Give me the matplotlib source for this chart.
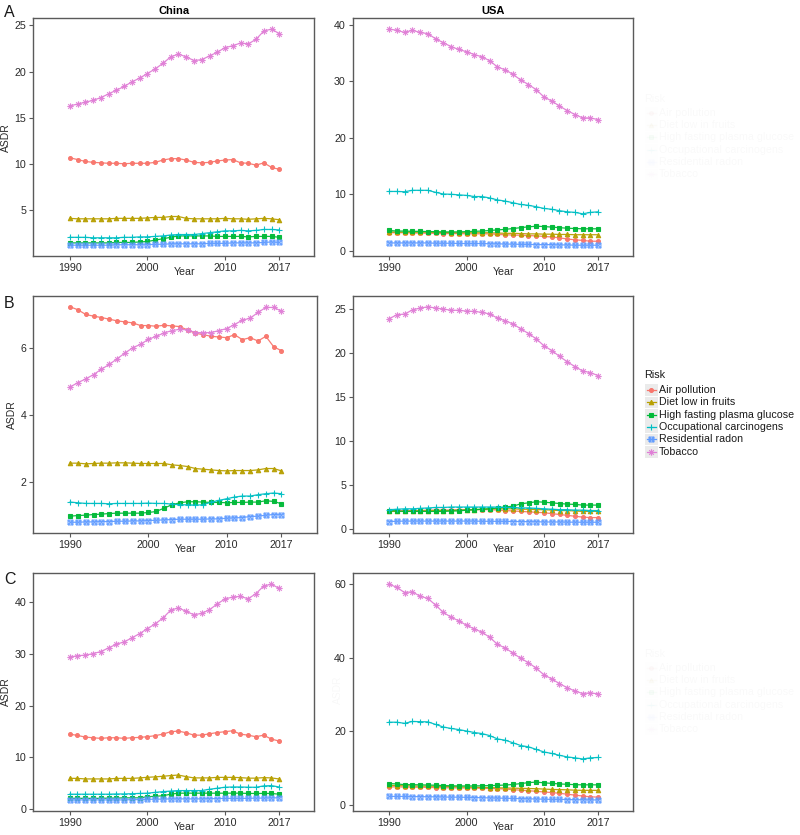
import numpy as np
import matplotlib
matplotlib.use("Agg")
import matplotlib.pyplot as plt
from matplotlib.path import Path
from matplotlib.lines import Line2D
from matplotlib.patches import Rectangle

plt.rcParams["font.family"] = ["Liberation Sans", "DejaVu Sans"]

W, H = 800, 835

years = list(range(1990, 2018))
xticks = [1990, 2000, 2010, 2017]
risks = ["Air pollution", "Diet low in fruits", "High fasting plasma glucose",
         "Occupational carcinogens", "Residential radon", "Tobacco"]
colors = ["#F8766D", "#B79F00", "#00BA38", "#00BFC4", "#619CFF", "#E07FD6"]

# Panel A (China)
a_china_air = [10.7, 10.5, 10.3, 10.2, 10.15, 10.1, 10.1, 10.05, 10.1, 10.1, 10.1, 10.2, 10.45, 10.6,
               10.6, 10.45, 10.2, 10.15, 10.2, 10.35, 10.45, 10.5, 10.15, 10.1, 9.9, 10.15, 9.65, 9.45]
a_china_diet = [4.15, 4.1, 4.1, 4.1, 4.1, 4.1, 4.15, 4.15, 4.15, 4.15, 4.2, 4.25, 4.25, 4.35,
                4.35, 4.15, 4.1, 4.1, 4.1, 4.1, 4.15, 4.1, 4.1, 4.05, 4.1, 4.15, 4.1, 4.0]
a_china_fpg = [1.5, 1.5, 1.5, 1.5, 1.5, 1.5, 1.55, 1.55, 1.55, 1.6, 1.65, 1.8, 1.95, 2.1,
               2.25, 2.25, 2.25, 2.25, 2.25, 2.2, 2.2, 2.2, 2.2, 2.15, 2.2, 2.2, 2.2, 2.1]
a_china_occ = [2.1, 2.1, 2.1, 2.05, 2.05, 2.05, 2.05, 2.1, 2.1, 2.15, 2.15, 2.2, 2.25, 2.35,
               2.4, 2.4, 2.4, 2.5, 2.6, 2.7, 2.8, 2.8, 2.85, 2.8, 2.85, 2.95, 2.95, 2.9]
a_china_radon = [1.25, 1.25, 1.25, 1.25, 1.25, 1.25, 1.3, 1.3, 1.3, 1.3, 1.3, 1.35, 1.35, 1.4,
                 1.4, 1.4, 1.4, 1.4, 1.45, 1.45, 1.45, 1.5, 1.5, 1.5, 1.5, 1.55, 1.6, 1.55]
a_china_tob = [16.3, 16.5, 16.7, 16.9, 17.2, 17.6, 18.0, 18.4, 18.9, 19.3, 19.8, 20.3, 20.9, 21.6,
               21.9, 21.6, 21.2, 21.3, 21.7, 22.1, 22.6, 22.8, 23.1, 23.0, 23.5, 24.4, 24.6, 24.1]

# Panel A (USA)
a_usa_air = [3.2, 3.2, 3.2, 3.15, 3.15, 3.1, 3.1, 3.05, 3.05, 3.05, 3.0, 3.0, 3.0, 3.0,
             2.9, 2.85, 2.8, 2.75, 2.7, 2.65, 2.55, 2.45, 2.3, 2.1, 1.95, 1.85, 1.7, 1.7]
a_usa_diet = [3.35, 3.3, 3.3, 3.3, 3.3, 3.3, 3.25, 3.25, 3.2, 3.2, 3.2, 3.2, 3.2, 3.2,
              3.15, 3.1, 3.1, 3.05, 3.0, 3.0, 2.95, 2.95, 2.9, 2.9, 2.85, 2.85, 2.85, 2.85]
a_usa_fpg = [3.6, 3.5, 3.5, 3.45, 3.45, 3.4, 3.4, 3.35, 3.35, 3.35, 3.4, 3.45, 3.5, 3.6,
             3.7, 3.8, 3.95, 4.1, 4.25, 4.35, 4.3, 4.2, 4.1, 4.0, 3.95, 3.9, 3.9, 3.9]
a_usa_occ = [10.5, 10.5, 10.45, 10.7, 10.7, 10.7, 10.35, 10.05, 10.0, 9.9, 9.8, 9.6, 9.6, 9.35,
             9.0, 8.8, 8.5, 8.2, 8.05, 7.8, 7.5, 7.35, 7.1, 6.9, 6.8, 6.55, 6.8, 6.9]
a_usa_radon = [1.4, 1.4, 1.4, 1.4, 1.4, 1.4, 1.35, 1.35, 1.35, 1.3, 1.3, 1.3, 1.3, 1.25,
               1.25, 1.2, 1.2, 1.15, 1.15, 1.1, 1.1, 1.1, 1.05, 1.05, 1.0, 1.0, 1.0, 1.0]
a_usa_tob = [39.2, 39.0, 38.6, 39.0, 38.6, 38.4, 37.5, 36.8, 36.1, 35.6, 35.2, 34.7, 34.3, 33.6,
             32.5, 32.0, 31.2, 30.2, 29.4, 28.5, 27.2, 26.5, 25.6, 24.8, 24.1, 23.5, 23.5, 23.2]

# Panel B (China)
b_china_air = [7.22, 7.13, 6.99, 6.94, 6.9, 6.85, 6.8, 6.77, 6.74, 6.66, 6.66, 6.64, 6.67, 6.65,
               6.63, 6.53, 6.43, 6.39, 6.34, 6.32, 6.3, 6.39, 6.24, 6.3, 6.2, 6.34, 6.03, 5.91]
b_china_diet = [2.56, 2.56, 2.54, 2.55, 2.56, 2.56, 2.57, 2.57, 2.56, 2.55, 2.55, 2.55, 2.55, 2.51,
                2.49, 2.46, 2.4, 2.38, 2.36, 2.34, 2.33, 2.34, 2.34, 2.34, 2.36, 2.4, 2.4, 2.33]
b_china_fpg = [0.98, 1.0, 1.01, 1.03, 1.04, 1.06, 1.07, 1.07, 1.07, 1.07, 1.09, 1.12, 1.22, 1.32,
               1.38, 1.41, 1.41, 1.4, 1.39, 1.39, 1.38, 1.39, 1.39, 1.4, 1.4, 1.44, 1.42, 1.35]
b_china_occ = [1.4, 1.38, 1.36, 1.36, 1.36, 1.35, 1.36, 1.36, 1.36, 1.36, 1.37, 1.36, 1.36, 1.34,
               1.32, 1.32, 1.31, 1.32, 1.4, 1.45, 1.5, 1.55, 1.58, 1.58, 1.62, 1.65, 1.67, 1.65]
b_china_radon = [0.8, 0.8, 0.81, 0.81, 0.82, 0.82, 0.83, 0.83, 0.84, 0.84, 0.85, 0.86, 0.87, 0.88,
                 0.89, 0.89, 0.89, 0.89, 0.9, 0.9, 0.92, 0.93, 0.94, 0.97, 0.98, 1.01, 1.03, 1.02]
b_china_tob = [4.83, 4.96, 5.07, 5.2, 5.36, 5.5, 5.67, 5.84, 6.0, 6.1, 6.25, 6.34, 6.44, 6.51,
               6.55, 6.53, 6.45, 6.45, 6.45, 6.51, 6.57, 6.69, 6.82, 6.88, 7.05, 7.2, 7.2, 7.09]

# Panel B (USA)
b_usa_air = [2.05, 2.05, 2.1, 2.1, 2.1, 2.15, 2.15, 2.15, 2.15, 2.2, 2.2, 2.2, 2.2, 2.2,
             2.15, 2.1, 2.05, 2.0, 1.95, 1.9, 1.85, 1.75, 1.65, 1.55, 1.45, 1.35, 1.3, 1.3]
b_usa_diet = [2.0, 2.0, 2.0, 2.05, 2.05, 2.05, 2.1, 2.1, 2.1, 2.15, 2.15, 2.2, 2.25, 2.3,
              2.3, 2.3, 2.3, 2.25, 2.25, 2.2, 2.2, 2.15, 2.1, 2.1, 2.05, 2.0, 2.0, 2.0]
b_usa_fpg = [2.1, 2.05, 2.0, 2.0, 2.0, 2.0, 2.0, 2.0, 2.05, 2.05, 2.15, 2.2, 2.25, 2.3,
             2.4, 2.5, 2.6, 2.87, 2.98, 3.1, 3.05, 2.98, 2.9, 2.83, 2.8, 2.72, 2.72, 2.72]
b_usa_occ = [2.2, 2.25, 2.3, 2.3, 2.35, 2.4, 2.45, 2.45, 2.5, 2.5, 2.5, 2.5, 2.5, 2.5,
             2.5, 2.45, 2.45, 2.4, 2.4, 2.35, 2.3, 2.25, 2.2, 2.2, 2.15, 2.15, 2.1, 2.1]
b_usa_radon = [0.85, 0.88, 0.9, 0.9, 0.9, 0.9, 0.9, 0.9, 0.9, 0.9, 0.9, 0.9, 0.88, 0.88,
               0.87, 0.87, 0.85, 0.85, 0.83, 0.83, 0.8, 0.8, 0.8, 0.78, 0.78, 0.77, 0.77, 0.77]
b_usa_tob = [23.95, 24.4, 24.47, 24.96, 25.15, 25.3, 25.15, 25.04, 24.9, 24.9, 24.8, 24.77, 24.66, 24.47,
             24.0, 23.7, 23.34, 22.78, 22.25, 21.64, 20.85, 20.32, 19.65, 19.04, 18.48, 17.99, 17.8, 17.46]

# Panel C (China)
c_china_air = [14.5, 14.25, 13.93, 13.8, 13.68, 13.8, 13.8, 13.68, 13.8, 13.87, 14.0, 14.2, 14.5, 14.96,
               15.09, 14.77, 14.3, 14.3, 14.56, 14.8, 14.96, 15.15, 14.5, 14.3, 14.0, 14.3, 13.55, 13.16]
c_china_diet = [5.97, 5.95, 5.85, 5.85, 5.85, 5.85, 5.95, 5.95, 5.95, 6.05, 6.16, 6.25, 6.36, 6.5,
                6.6, 6.3, 6.05, 6.05, 6.05, 6.15, 6.15, 6.15, 6.1, 6.0, 6.0, 6.1, 6.05, 5.84]
c_china_fpg = [2.1, 2.1, 2.1, 2.1, 2.1, 2.15, 2.15, 2.2, 2.2, 2.2, 2.4, 2.5, 2.6, 2.9,
               3.1, 3.1, 3.1, 3.1, 3.1, 3.1, 3.1, 3.1, 3.1, 3.05, 3.05, 3.05, 3.05, 2.9]
c_china_occ = [2.9, 2.9, 2.9, 2.9, 2.9, 2.9, 2.95, 2.95, 3.0, 3.05, 3.1, 3.25, 3.4, 3.5,
               3.6, 3.6, 3.6, 3.6, 3.85, 4.05, 4.24, 4.3, 4.3, 4.25, 4.24, 4.5, 4.56, 4.3]
c_china_radon = [1.8, 1.8, 1.8, 1.8, 1.8, 1.8, 1.8, 1.8, 1.85, 1.85, 1.9, 1.95, 1.95, 2.0,
                 2.0, 2.0, 2.0, 2.0, 2.05, 2.05, 2.1, 2.1, 2.1, 2.1, 2.15, 2.15, 2.2, 2.2]
c_china_tob = [29.34, 29.66, 29.73, 30.05, 30.43, 31.14, 31.85, 32.3, 33.07, 33.9, 34.86, 35.76, 36.9, 38.4,
               38.9, 38.2, 37.56, 37.8, 38.5, 39.6, 40.6, 40.96, 41.1, 40.64, 41.6, 43.08, 43.47, 42.63]

# Panel C (USA)
c_usa_air = [4.8, 4.8, 4.75, 4.7, 4.7, 4.65, 4.6, 4.55, 4.55, 4.5, 4.5, 4.45, 4.4, 4.35,
             4.3, 4.2, 4.05, 3.9, 3.75, 3.6, 3.4, 3.25, 3.05, 2.8, 2.55, 2.3, 2.1, 2.0]
c_usa_diet = [5.2, 5.15, 5.1, 5.05, 5.0, 5.0, 4.95, 4.9, 4.85, 4.8, 4.75, 4.7, 4.65, 4.6,
              4.55, 4.5, 4.45, 4.4, 4.35, 4.3, 4.2, 4.1, 4.05, 4.0, 3.9, 3.85, 3.85, 3.85]
c_usa_fpg = [5.7, 5.6, 5.4, 5.4, 5.35, 5.3, 5.25, 5.15, 5.1, 5.05, 5.05, 5.05, 5.1, 5.15,
             5.2, 5.3, 5.45, 5.7, 5.95, 6.1, 5.9, 5.75, 5.6, 5.5, 5.4, 5.35, 5.35, 5.35]
c_usa_occ = [22.4, 22.4, 22.1, 22.6, 22.55, 22.5, 21.8, 21.1, 20.7, 20.4, 20.0, 19.6, 19.3, 18.75,
             17.85, 17.5, 16.8, 16.05, 15.7, 15.0, 14.3, 13.9, 13.4, 12.95, 12.7, 12.4, 12.7, 12.8]
c_usa_radon = [2.2, 2.2, 2.2, 2.15, 2.15, 2.1, 2.1, 2.05, 2.0, 2.0, 1.95, 1.9, 1.85, 1.8,
               1.75, 1.7, 1.65, 1.6, 1.55, 1.5, 1.45, 1.4, 1.4, 1.35, 1.3, 1.3, 1.25, 1.25]
c_usa_tob = [60.0, 59.1, 57.7, 57.9, 56.7, 56.1, 54.3, 52.3, 51.0, 50.0, 48.8, 47.8, 46.9, 45.5,
             43.6, 42.6, 41.2, 39.8, 38.6, 37.1, 35.3, 34.2, 32.9, 31.8, 30.9, 30.2, 30.4, 30.1]

a_china_yticks = [5, 10, 15, 20, 25]
a_usa_yticks = [0, 10, 20, 30, 40]
b_china_yticks = [2, 4, 6]
b_usa_yticks = [0, 5, 10, 15, 20, 25]
c_china_yticks = [0, 10, 20, 30, 40]
c_usa_yticks = [0, 20, 40, 60]

# custom ggplot-like markers: square cross (shape 7) and asterisk (shape 8)
M, L = Path.MOVETO, Path.LINETO
sq_cross = Path([(-1, -1), (1, -1), (1, 1), (-1, 1), (-1, -1), (-1, -1), (1, 1), (-1, 1), (1, -1)],
                [M, L, L, L, L, M, L, M, L])
asterisk = Path([(-1, 0), (1, 0), (0, -1), (0, 1), (-.72, -.72), (.72, .72), (-.72, .72), (.72, -.72)],
                [M, L, M, L, M, L, M, L])
mstyle = [
    dict(marker="o", ms=2.8, mfc=None),
    dict(marker="^", ms=3.2, mfc=None),
    dict(marker="s", ms=2.8, mfc=None),
    dict(marker="+", ms=4.8, mfc=None),
    dict(marker=sq_cross, ms=3.5, mfc="none"),
    dict(marker=asterisk, ms=4.6, mfc="none"),
]


def rect(l, t, r, b):
    return [l / W, 1 - b / H, (r - l) / W, (b - t) / H]


fig = plt.figure(figsize=(W / 100, H / 100), dpi=100)

panels = [
    ("China", rect(33.3, 18.3, 314.3, 256), [a_china_air, a_china_diet, a_china_fpg, a_china_occ, a_china_radon, a_china_tob], a_china_yticks, True, True),
    ("USA", rect(352.7, 18.3, 633, 256), [a_usa_air, a_usa_diet, a_usa_fpg, a_usa_occ, a_usa_radon, a_usa_tob], a_usa_yticks, True, False),
    ("China", rect(33.3, 296, 316.7, 533), [b_china_air, b_china_diet, b_china_fpg, b_china_occ, b_china_radon, b_china_tob], b_china_yticks, False, True),
    ("USA", rect(353, 296, 633, 533), [b_usa_air, b_usa_diet, b_usa_fpg, b_usa_occ, b_usa_radon, b_usa_tob], b_usa_yticks, False, False),
    ("China", rect(33.3, 573.3, 314, 810.7), [c_china_air, c_china_diet, c_china_fpg, c_china_occ, c_china_radon, c_china_tob], c_china_yticks, False, True),
    ("USA", rect(352.7, 573.3, 633, 810.7), [c_usa_air, c_usa_diet, c_usa_fpg, c_usa_occ, c_usa_radon, c_usa_tob], c_usa_yticks, False, False),
]

frame_col = "#5a5a5a"
for name, pos, series, yt, show_title, show_ylab in panels:
    ax = fig.add_axes(pos)
    for vals, col, st in zip(series, colors, mstyle):
        ax.plot(years, vals, color=col, lw=0.9, alpha=0.95, marker=st["marker"], ms=st["ms"],
                mec=col, mfc=col if st["mfc"] is None else st["mfc"], mew=0.8)
    ax.set_xlim(1985.3, 2021.5)
    ax.margins(y=0.05)
    ax.set_xticks(xticks)
    ax.set_yticks(yt)
    for s in ax.spines.values():
        s.set_color(frame_col)
        s.set_linewidth(1.0)
    ax.tick_params(length=3, width=0.8, color=frame_col, labelsize=7.7, labelcolor="#2a2a2a", pad=2)
    ax.set_xlabel("Year", fontsize=7.7, color="#2a2a2a")
    ax.xaxis.set_label_coords(0.538, -0.047)
    if show_ylab:
        ax.set_ylabel("ASDR", fontsize=7.5, color="#2a2a2a", labelpad=2.5)
    if show_title:
        ax.set_title(name, fontsize=8, fontweight="bold", pad=3)

# panel letters
for letter, y in [("A", 12.5), ("B", 303), ("C", 579)]:
    fig.text(4 / W, 1 - y / H, letter, fontsize=11.5, va="center", ha="left", color="#1a1a1a")

# faint leftover y label on lower USA panel
fig.text(338 / W, 1 - 690 / H, "ASDR", fontsize=7.4, rotation=90, va="center", ha="center", color="#000000", alpha=0.03)


def draw_legend(y_title, y_first, alpha):
    step = 12.35
    fig.text(644 / W, 1 - y_title / H, "Risk", fontsize=7.8, va="center", ha="left", color="#1a1a1a", alpha=alpha)
    for i, (lab, col, st) in enumerate(zip(risks, colors, mstyle)):
        y = y_first + i * step
        fig.add_artist(Rectangle((645 / W, 1 - (y + 5.8) / H), 12.5 / W, 11.6 / H, transform=fig.transFigure,
                                 facecolor="#ebebeb", edgecolor="none", alpha=alpha))
        fig.add_artist(Line2D([646.5 / W, 656 / W], [1 - y / H] * 2, transform=fig.transFigure,
                              color=col, lw=0.9, alpha=alpha))
        fig.add_artist(Line2D([651.2 / W], [1 - y / H], transform=fig.transFigure, linestyle="none",
                              marker=st["marker"], ms=st["ms"], mec=col,
                              mfc=col if st["mfc"] is None else st["mfc"], mew=0.8, alpha=alpha))
        fig.text(659 / W, 1 - y / H, lab, fontsize=7.7, va="center", ha="left", color="#1a1a1a", alpha=alpha)


draw_legend(99, 112.7, 0.025)
draw_legend(374.5, 390, 1.0)
draw_legend(654, 667.7, 0.025)

fig.savefig("out.png", dpi=100, facecolor="white")
